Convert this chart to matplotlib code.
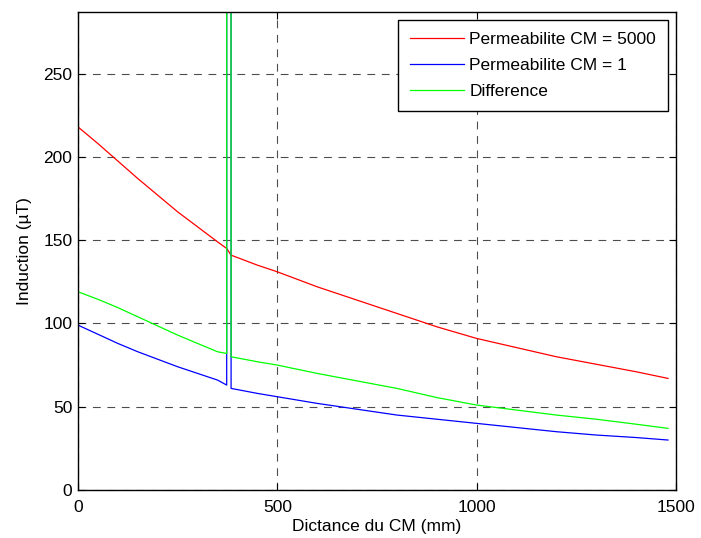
import matplotlib
matplotlib.use("Agg")
import matplotlib.pyplot as plt

# Distance (mm)
x_red = [0, 50, 100, 150, 200, 250, 300, 350, 373, 384, 450, 500, 600, 700, 800, 900,
         1000, 1100, 1200, 1300, 1400, 1480]
red = [218, 208, 197.5, 187, 177, 167, 158, 149, 145, 141, 135, 131, 122, 114, 106, 98,
       91, 85.5, 80, 75.5, 71, 67]

x_blue = [0, 50, 100, 150, 200, 250, 300, 350, 373, 373, 383, 384, 450, 500, 600, 700, 800, 900,
          1000, 1100, 1200, 1300, 1400, 1480]
blue = [99, 93.5, 88, 83, 78.5, 74, 70, 66, 63, 2000, 2000, 61, 58, 56, 52, 48.5, 45, 42.5,
        40, 37.5, 35, 33, 31.5, 30]

x_green = [0, 50, 100, 150, 200, 250, 300, 350, 373, 373, 383, 384, 450, 500, 600, 700, 800, 900,
           1000, 1100, 1200, 1300, 1400, 1480]
green = [119, 114.5, 109.5, 104, 98.5, 93, 88, 83, 82, 2000, 2000, 80, 77, 75, 70, 65.5, 61, 55.5,
         51, 48, 45, 42.5, 39.5, 37]

labels = ["Permeabilite CM = 5000", "Permeabilite CM = 1", "Difference"]
xticks = [0, 500, 1000, 1500]
yticks = [0, 50, 100, 150, 200, 250]

plt.rcParams['font.family'] = ['Liberation Sans', 'DejaVu Sans']
FS = 12.5

fig = plt.figure(figsize=(7.01, 5.38), dpi=100)
ax = fig.add_axes([78/701, 48/538, (676-78)/701, (490-12)/538])

ax.plot(x_red, red, color='#ff0000', lw=0.9, label=labels[0])
ax.plot(x_blue, blue, color='#0000ff', lw=0.9, label=labels[1])
ax.plot(x_green, green, color='#00ff00', lw=0.9, label=labels[2])

ax.set_xlim(0, 1500)
ax.set_ylim(0, 287)
ax.set_xticks(xticks)
ax.set_yticks(yticks)
ax.tick_params(direction='in', length=5, labelsize=FS, top=True, right=True, width=0.8, pad=4)
ax.tick_params(axis='x', pad=7)
ax.grid(True, color='0.3', linestyle=(0, (7, 6)), linewidth=0.8)
for s in ax.spines.values():
    s.set_linewidth(1.0)

ax.set_xlabel("Dictance du CM (mm)", fontsize=FS, labelpad=3)
ax.set_ylabel("Induction (µT)", fontsize=FS, labelpad=8)

leg = ax.legend(loc='upper right', fontsize=FS, handlelength=3.1, handletextpad=0.3,
                fancybox=False, framealpha=1, edgecolor='black', borderaxespad=0.45,
                borderpad=0.7, labelspacing=0.62)
leg.get_frame().set_linewidth(1.0)

fig.savefig("out.png", dpi=100)
